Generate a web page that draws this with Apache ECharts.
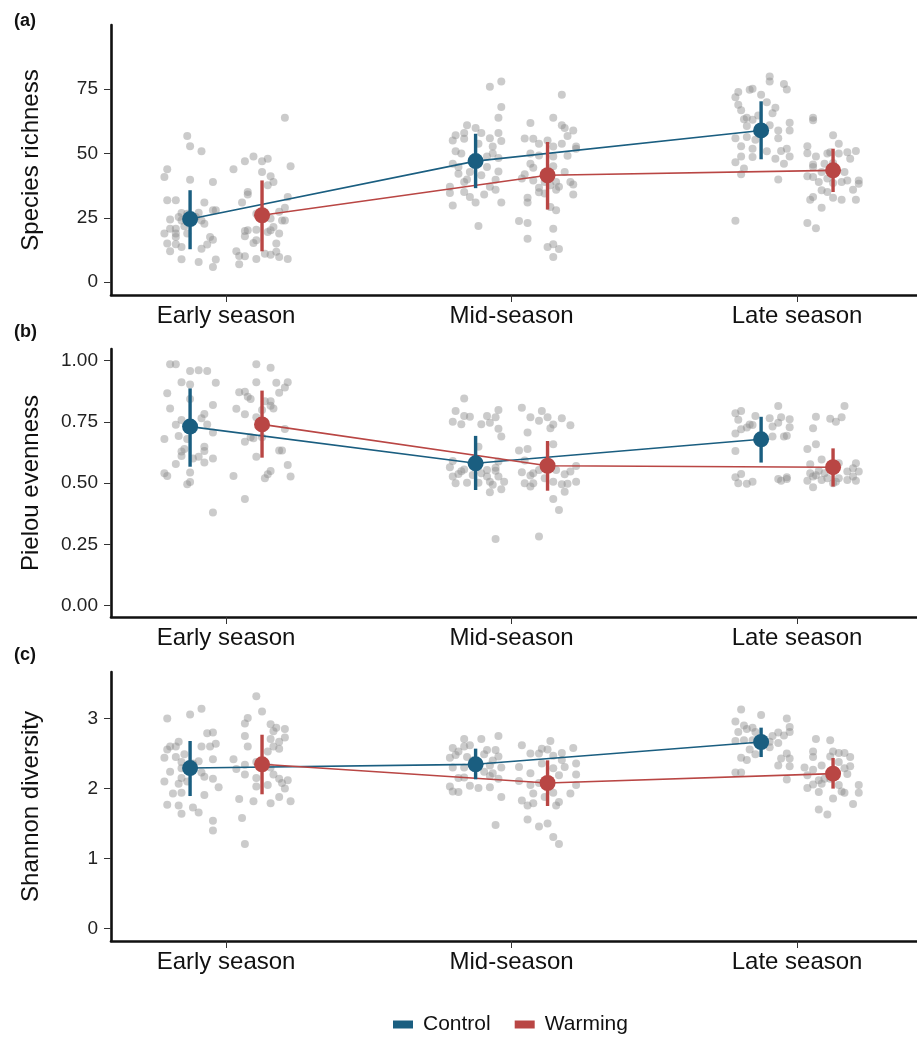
<!DOCTYPE html>
<html>
<head>
<meta charset="utf-8">
<script src="https://cdn.jsdelivr.net/npm/echarts@6/dist/echarts.min.js"></script>
<style>
  html, body { margin: 0; padding: 0; background: #fff; }
  #container { width: 917px; height: 1037px; }
</style>
</head>
<body>
<div id="container"></div>
<script>
var seasons = ['Early season', 'Mid-season', 'Late season'];
var treatments = ['Control', 'Warming'];

// means and error bar ends, per season
var richMeanCtrl = [24.5, 47.0, 58.9];
var richLoCtrl = [12.8, 36.5, 47.7];
var richHiCtrl = [35.7, 57.6, 70.2];
var richMeanWarm = [26.0, 41.5, 43.4];
var richLoWarm = [12.0, 28.2, 35.0];
var richHiWarm = [39.5, 54.4, 51.8];

var evenMeanCtrl = [0.731, 0.581, 0.679];
var evenLoCtrl = [0.567, 0.472, 0.584];
var evenHiCtrl = [0.887, 0.693, 0.771];
var evenMeanWarm = [0.740, 0.571, 0.565];
var evenLoWarm = [0.604, 0.469, 0.486];
var evenHiWarm = [0.878, 0.672, 0.642];

var shanMeanCtrl = [2.294, 2.347, 2.666];
var shanLoCtrl = [1.894, 2.133, 2.451];
var shanHiCtrl = [2.680, 2.571, 2.871];
var shanMeanWarm = [2.347, 2.080, 2.214];
var shanLoWarm = [1.919, 1.752, 2.000];
var shanHiWarm = [2.770, 2.404, 2.437];

// raw plots: [jitter, value]
var richEarlyCtrl = [[-0.09,40.8],[-0.08,43.8],[-0.01,56.7],[0,52.8],[0.04,50.8],[0,39.8],[0.08,38.9],[-0.08,31.8],[-0.05,31.8],[0.05,30.9],[-0.03,26.9],[0.03,27],[0.08,27.9],[0.09,27.9],[-0.07,24.3],[-0.03,24],[0.04,24],[0.05,22.7],[-0.02,21.7],[-0.07,20.8],[-0.05,20.8],[-0.09,18.9],[-0.05,18.9],[-0.01,18.9],[-0.05,17.6],[0.07,17.6],[0.08,16.5],[-0.08,15],[-0.05,14.7],[0.06,14.6],[-0.03,13.7],[0.04,13],[-0.07,12],[-0.03,8.9],[0.03,7.9],[0.08,5.9],[0.09,8.8],[-0.04,25.3],[-0.01,26.6],[0.02,25.3]];
var richEarlyWarm = [[0.08,63.8],[-0.03,48.8],[0.02,47.9],[0,46.9],[-0.06,46.9],[-0.1,43.8],[0.1,45],[0,42.8],[0.03,41.1],[0.04,38.9],[0.02,37.6],[-0.05,35],[-0.05,34],[-0.07,30.9],[0.09,33.1],[0.08,28.9],[-0.02,26.6],[0.06,27.3],[0.07,24],[0.08,24],[0.03,24.7],[0.03,20.2],[0.04,21.4],[-0.05,20.2],[-0.06,19.9],[-0.02,20.4],[-0.06,17.8],[0.06,18.9],[-0.03,15.2],[-0.02,16.3],[0.05,15],[-0.09,12],[-0.08,10.2],[-0.06,10.1],[-0.08,7],[-0.02,9],[0.01,11.1],[0.03,10.7],[0.05,11.8],[0.06,9.8],[0.09,9],[0.02,19.5]];
var richMidCtrl = [[0.09,77.9],[0.05,75.8],[0.09,68],[0.08,63.8],[-0.03,60.9],[0,59.8],[-0.07,57],[-0.04,57.9],[0.02,57.9],[-0.08,55],[-0.04,55.7],[0.05,55.9],[0.08,57.9],[0.09,54.8],[0.01,53.7],[0.06,52.7],[-0.07,50.8],[-0.05,49.9],[0.04,48.8],[0.06,49.9],[0.08,48.2],[-0.08,46],[-0.06,44.7],[-0.06,42.1],[-0.02,42.8],[0.02,41.5],[0.04,44.7],[0.08,43],[-0.04,38.9],[-0.03,39.9],[0.07,39.8],[-0.09,37],[0.05,37],[0.07,35.9],[-0.09,34.6],[-0.04,35],[-0.02,33.1],[0.03,34],[-0.08,29.8],[0,30.9],[0.09,30.9],[0.01,21.8]];
var richMidWarm = [[0.05,72.7],[0.02,63.8],[-0.06,61.8],[0.05,60.9],[0.06,59.8],[0.09,58.9],[0.07,56.7],[-0.08,55.8],[-0.05,55.7],[-0.03,53.7],[0,55],[0.05,53.7],[0.02,52.7],[0.1,52.7],[0.1,51.8],[-0.06,49.9],[-0.03,49.2],[0.02,48.8],[0.07,49.1],[-0.06,46],[-0.05,44.4],[0.02,45],[0.06,42.8],[-0.08,41.9],[-0.09,40.2],[-0.05,39.5],[-0.01,38.9],[0.03,38.9],[0.08,38.9],[0.09,37.9],[-0.03,36.7],[0.01,37.6],[0.04,37],[0.03,35.9],[-0.03,34.9],[-0.01,34.4],[0.09,34],[-0.07,32.8],[-0.07,30.9],[0.01,29.2],[0.03,27.9],[-0.1,23.8],[-0.07,23],[0.02,20.8],[-0.07,16.9],[0,13.7],[0.02,14.7],[0.04,12.9],[0.02,9.8]];
var richLateCtrl = [[0.03,79.8],[0.03,77.9],[0.08,76.9],[0.09,74.8],[-0.04,74.7],[-0.03,75.1],[-0.08,73.8],[0,72.7],[-0.09,71.8],[0.02,69.8],[-0.08,68.9],[0.05,67.7],[-0.07,66.7],[0.04,65.6],[-0.06,63.2],[-0.05,63.8],[-0.01,64.7],[-0.03,63],[-0.05,60.6],[0.03,60.9],[0.1,61.9],[0.06,58.9],[0.1,58.9],[-0.09,55.9],[-0.05,56.3],[-0.02,55.3],[0.06,55.9],[-0.07,52.8],[-0.03,51.8],[0.07,50.9],[0.09,51.8],[-0.07,48.8],[-0.03,48.6],[0.02,50.8],[0.1,48.8],[-0.09,46.6],[0.05,47.9],[0.08,46],[-0.06,44.1],[-0.07,41.9],[0.06,39.9],[-0.09,23.9]];
var richLateWarm = [[-0.07,63.8],[-0.07,62.8],[0,57],[0.02,53.7],[-0.09,52.8],[-0.01,50.4],[0.05,50.4],[0.08,50.9],[-0.09,50],[-0.06,48.8],[-0.02,49.9],[0.02,49.9],[0.06,47.9],[-0.07,45.7],[-0.03,46],[0,46.3],[-0.07,44.7],[-0.04,42.8],[0.04,42.8],[-0.09,41.1],[-0.07,40.8],[-0.05,38.9],[-0.02,40.2],[0.03,38.9],[0.05,39.5],[0.09,39.5],[0.09,38.2],[0,38.5],[-0.04,35.7],[-0.02,35],[0.07,35.9],[-0.08,32],[-0.07,33.1],[0,32.8],[0.03,32],[0.08,32],[-0.04,28.9],[-0.09,23],[-0.06,20.9]];

var evenEarlyCtrl = [[-0.07,0.986],[-0.05,0.986],[0,0.958],[0.03,0.961],[0.06,0.958],[-0.03,0.912],[0,0.903],[0.09,0.91],[-0.08,0.867],[0,0.844],[0.08,0.819],[-0.07,0.805],[0.05,0.782],[-0.03,0.758],[0.04,0.765],[-0.05,0.739],[0.06,0.74],[0.08,0.707],[-0.04,0.693],[-0.09,0.68],[-0.01,0.68],[-0.02,0.639],[0.05,0.649],[-0.03,0.629],[0.05,0.631],[-0.03,0.611],[0.01,0.601],[0.03,0.608],[0.08,0.601],[-0.05,0.578],[0.05,0.584],[-0.09,0.54],[-0.08,0.529],[0,0.543],[-0.01,0.495],[0,0.505],[0.08,0.38]];
var evenEarlyWarm = [[-0.02,0.986],[0.03,0.971],[-0.02,0.912],[0.05,0.91],[0.09,0.912],[0.08,0.891],[-0.08,0.871],[-0.06,0.873],[-0.05,0.853],[-0.04,0.844],[0.06,0.869],[0.01,0.835],[0.03,0.835],[0.03,0.816],[0.04,0.805],[-0.09,0.804],[0,0.799],[-0.06,0.781],[-0.02,0.769],[0.08,0.721],[-0.04,0.687],[-0.06,0.669],[-0.03,0.683],[0,0.687],[0.06,0.633],[0.07,0.633],[-0.02,0.608],[0.09,0.574],[0.03,0.55],[0.02,0.536],[0.01,0.52],[-0.1,0.529],[0.1,0.527],[-0.06,0.435]];
var evenMidCtrl = [[-0.04,0.846],[-0.07,0.795],[-0.04,0.774],[-0.02,0.771],[0.08,0.799],[0.04,0.774],[0.07,0.769],[-0.08,0.751],[-0.05,0.741],[0.02,0.741],[0.05,0.747],[0.08,0.722],[0.09,0.69],[0.01,0.649],[-0.08,0.59],[0.08,0.588],[-0.09,0.565],[-0.04,0.556],[-0.06,0.537],[-0.08,0.527],[-0.03,0.502],[-0.07,0.499],[-0.01,0.533],[0.02,0.54],[0.04,0.527],[0.05,0.506],[0.07,0.563],[0.08,0.527],[0.1,0.506],[0.06,0.493],[0.07,0.551],[0.01,0.502],[0.09,0.475],[0.05,0.463],[0.07,0.272],[-0.05,0.548],[0.04,0.554]];
var evenMidWarm = [[-0.09,0.808],[-0.06,0.769],[-0.03,0.755],[-0.02,0.795],[0,0.769],[0.01,0.724],[0.05,0.765],[0.08,0.736],[0.02,0.74],[-0.07,0.707],[0.02,0.659],[-0.07,0.639],[-0.1,0.633],[-0.08,0.592],[0.1,0.57],[-0.09,0.544],[-0.06,0.531],[-0.05,0.54],[-0.03,0.554],[0.03,0.554],[0.06,0.536],[0.08,0.547],[-0.08,0.499],[-0.06,0.486],[-0.05,0.499],[0.02,0.506],[0.05,0.495],[0.07,0.497],[0.1,0.506],[0.06,0.465],[0.02,0.435],[0.04,0.39],[-0.03,0.282],[-0.01,0.52]];
var evenLateCtrl = [[0.06,0.815],[-0.09,0.785],[-0.07,0.795],[-0.02,0.774],[0.03,0.765],[0.07,0.769],[0.1,0.761],[-0.08,0.759],[-0.04,0.74],[-0.03,0.737],[-0.05,0.727],[-0.07,0.72],[-0.09,0.703],[0.04,0.731],[0.06,0.747],[0.1,0.728],[0.08,0.69],[0.09,0.694],[0.04,0.69],[-0.09,0.631],[-0.09,0.524],[-0.07,0.537],[-0.08,0.499],[-0.05,0.497],[-0.03,0.506],[0.06,0.517],[0.07,0.51],[0.09,0.517],[0.09,0.524]];
var evenLateWarm = [[0.04,0.815],[-0.06,0.771],[-0.01,0.763],[0.03,0.769],[0.01,0.751],[-0.07,0.724],[-0.09,0.639],[-0.06,0.659],[-0.04,0.597],[-0.08,0.577],[0.02,0.581],[0.08,0.581],[-0.08,0.54],[-0.05,0.551],[-0.03,0.54],[0.05,0.547],[0.07,0.561],[0.09,0.547],[-0.09,0.51],[-0.07,0.527],[-0.04,0.513],[-0.02,0.52],[0.01,0.506],[0.02,0.52],[0.05,0.513],[0.08,0.51],[-0.07,0.483],[0,0.499],[0.07,0.527],[-0.06,0.532]];

var shanEarlyCtrl = [[-0.08,3],[0,3.06],[0.04,3.14],[0.06,2.79],[0.08,2.8],[-0.04,2.67],[-0.08,2.56],[-0.07,2.6],[-0.05,2.6],[0.04,2.6],[0.07,2.6],[0.09,2.64],[-0.09,2.44],[-0.05,2.45],[-0.02,2.49],[-0.03,2.38],[0.03,2.39],[0.08,2.42],[-0.07,2.24],[-0.03,2.29],[0.04,2.23],[0.05,2.17],[-0.03,2.15],[-0.01,2.1],[-0.09,2.1],[-0.04,2.07],[0.08,2.14],[0.1,2.02],[-0.06,1.93],[-0.03,1.94],[0.05,1.91],[-0.08,1.77],[-0.04,1.76],[0.01,1.73],[-0.03,1.64],[0.03,1.66],[0.08,1.54],[0.08,1.4],[0.01,2.36]];
var shanEarlyWarm = [[-0.02,3.32],[0,3.1],[-0.05,3.01],[-0.06,2.93],[0.03,2.92],[0.05,2.87],[0.08,2.85],[0.04,2.82],[-0.06,2.75],[0.03,2.71],[0.06,2.67],[0.08,2.73],[0.04,2.6],[0.06,2.57],[-0.05,2.6],[0.02,2.53],[-0.1,2.42],[-0.06,2.34],[-0.02,2.38],[0.03,2.3],[-0.09,2.28],[-0.06,2.2],[0.04,2.2],[-0.02,2.15],[0.06,2.14],[0.09,2.12],[-0.02,2.03],[0.02,2.05],[0.07,2.08],[0.08,2],[-0.08,1.85],[-0.03,1.82],[0.03,1.79],[0.06,1.88],[0.1,1.82],[-0.07,1.58],[-0.06,1.21]];
var shanMidCtrl = [[0.08,2.75],[0.02,2.71],[-0.04,2.71],[-0.04,2.6],[-0.08,2.58],[-0.02,2.62],[0.04,2.55],[0.07,2.55],[-0.06,2.53],[-0.07,2.48],[-0.09,2.44],[-0.03,2.45],[0.03,2.49],[0.08,2.46],[0.06,2.4],[0.09,2.3],[-0.08,2.3],[-0.04,2.3],[0.05,2.33],[0.03,2.24],[0.05,2.18],[0.06,2.22],[0.08,2.14],[-0.06,2.15],[-0.04,2.16],[-0.09,2.03],[-0.08,1.96],[-0.06,1.95],[-0.02,2.04],[0.01,2.01],[0.05,2.02],[0.09,1.88],[0.07,1.48],[0.01,2.38],[-0.01,2.4]];
var shanMidWarm = [[0.01,2.68],[-0.09,2.62],[0,2.56],[-0.02,2.57],[0.09,2.58],[-0.06,2.5],[-0.03,2.5],[0.05,2.51],[0.02,2.47],[0.05,2.41],[-0.1,2.31],[-0.02,2.36],[0.02,2.29],[0.06,2.31],[0.1,2.36],[-0.06,2.22],[0.04,2.19],[0.1,2.2],[-0.1,2.11],[-0.06,2.05],[-0.03,2.08],[0.1,2.05],[0.08,1.93],[-0.05,1.93],[-0.01,1.88],[0.02,1.94],[-0.09,1.83],[-0.07,1.76],[-0.05,1.79],[0.03,1.76],[0.04,1.81],[-0.07,1.56],[-0.03,1.46],[0,1.5],[0.02,1.31],[0.04,1.21]];
var shanLateCtrl = [[-0.07,3.13],[0,3.05],[0.09,3],[-0.09,2.96],[-0.06,2.9],[-0.03,2.87],[0.1,2.88],[-0.08,2.81],[-0.05,2.85],[-0.02,2.81],[0.04,2.75],[0.06,2.8],[0.08,2.76],[0.1,2.81],[-0.09,2.68],[-0.06,2.69],[-0.03,2.69],[0.03,2.67],[0.06,2.65],[-0.04,2.56],[0.03,2.59],[-0.02,2.49],[0.09,2.5],[-0.07,2.44],[-0.05,2.41],[0.07,2.43],[0.1,2.43],[0.06,2.33],[0.1,2.32],[-0.09,2.23],[-0.07,2.23],[0.09,2.13]];
var shanLateWarm = [[-0.06,2.71],[-0.01,2.69],[-0.07,2.53],[0,2.53],[0.02,2.51],[0.04,2.51],[-0.07,2.45],[0.06,2.45],[-0.01,2.46],[-0.04,2.33],[0.02,2.38],[0.06,2.32],[-0.1,2.3],[-0.07,2.27],[0.04,2.29],[0.05,2.21],[-0.09,2.19],[-0.05,2.12],[-0.03,2.14],[-0.09,2.01],[-0.07,2.06],[-0.04,2.07],[0.02,2.05],[0.09,2.05],[0.09,1.94],[-0.05,1.95],[0.03,1.96],[0.04,1.94],[0,1.86],[0.07,1.78],[-0.05,1.7],[-0.02,1.63],[-0.01,2.14]];

var yTicksRich = [0, 25, 50, 75];
var yTicksEven = [0, 0.25, 0.5, 0.75, 1];
var yTicksShan = [0, 1, 2, 3];

var CTRL = '#1a5e80';
var WARM = '#b94644';
var DODGE = 0.126;
var FONT = 'Liberation Sans, Arial, sans-serif';

var panels = [
  { name: 'Species richness', label: '(a)', top: 25, height: 270, min: -4.95, max: 99.8, ticks: yTicksRich, fmt: function (v) { return String(v); },
    raw: [[richEarlyCtrl, richEarlyWarm], [richMidCtrl, richMidWarm], [richLateCtrl, richLateWarm]],
    mean: [richMeanCtrl, richMeanWarm], lo: [richLoCtrl, richLoWarm], hi: [richHiCtrl, richHiWarm] },
  { name: 'Pielou evenness', label: '(b)', top: 349, height: 268, min: -0.047, max: 1.048, ticks: yTicksEven, fmt: function (v) { return v.toFixed(2); },
    raw: [[evenEarlyCtrl, evenEarlyWarm], [evenMidCtrl, evenMidWarm], [evenLateCtrl, evenLateWarm]],
    mean: [evenMeanCtrl, evenMeanWarm], lo: [evenLoCtrl, evenLoWarm], hi: [evenHiCtrl, evenHiWarm] },
  { name: 'Shannon diversity', label: '(c)', top: 672, height: 269, min: -0.177, max: 3.666, ticks: yTicksShan, fmt: function (v) { return String(v); },
    raw: [[shanEarlyCtrl, shanEarlyWarm], [shanMidCtrl, shanMidWarm], [shanLateCtrl, shanLateWarm]],
    mean: [shanMeanCtrl, shanMeanWarm], lo: [shanLoCtrl, shanLoWarm], hi: [shanHiCtrl, shanHiWarm] }
];
var labelTops = [12, 323, 646];

var grids = [], xAxes = [], yAxes = [], series = [], graphics = [];
var colors = [CTRL, WARM];

panels.forEach(function (p, k) {
  grids.push({ left: 111, right: 0, top: p.top, height: p.height });
  xAxes.push({
    type: 'value', gridIndex: k, min: 0.597, max: 3.42,
    splitLine: { show: false },
    axisLine: { onZero: false, lineStyle: { color: '#111', width: 2.6 } },
    axisTick: { length: 7, customValues: [1, 2, 3], lineStyle: { color: '#333', width: 1 } },
    axisLabel: { customValues: [1, 2, 3], margin: 9, fontSize: 24, color: '#111', fontFamily: FONT,
      formatter: function (v) { return seasons[Math.round(v) - 1]; } }
  });
  yAxes.push({
    type: 'value', gridIndex: k, min: p.min, max: p.max,
    name: p.name, nameLocation: 'middle', nameGap: 68,
    nameTextStyle: { fontSize: 24, color: '#111', fontFamily: FONT },
    splitLine: { show: false },
    axisLine: { show: true, lineStyle: { color: '#111', width: 2.6 } },
    axisTick: { show: true, length: 7, customValues: p.ticks, lineStyle: { color: '#333', width: 1 } },
    axisLabel: { customValues: p.ticks, margin: 13, fontSize: 19, color: '#222', fontFamily: FONT, formatter: p.fmt }
  });

  var pts = [];
  p.raw.forEach(function (pair, i) {
    pair.forEach(function (arr, t) {
      var cx = i + 1 + (t === 0 ? -DODGE : DODGE);
      arr.forEach(function (d) { pts.push([cx + d[0], d[1]]); });
    });
  });
  series.push({
    type: 'scatter', xAxisIndex: k, yAxisIndex: k, data: pts, symbolSize: 8, z: 1,
    itemStyle: { color: '#8c8c8c', opacity: 0.45 }, silent: true
  });

  treatments.forEach(function (tr, t) {
    var off = t === 0 ? -DODGE : DODGE;
    var means = seasons.map(function (s, i) { return [i + 1 + off, p.mean[t][i]]; });
    var bars = seasons.map(function (s, i) { return [i + 1 + off, p.lo[t][i], p.hi[t][i]]; });
    series.push({
      name: tr, type: 'line', xAxisIndex: k, yAxisIndex: k, data: means, z: 2,
      symbol: 'none', lineStyle: { color: colors[t], width: 1.6 }, itemStyle: { color: colors[t] }
    });
    series.push({
      type: 'custom', xAxisIndex: k, yAxisIndex: k, data: bars, z: 3,
      encode: { x: 0, y: [1, 2] },
      renderItem: function (params, api) {
        var a = api.coord([api.value(0), api.value(1)]);
        var b = api.coord([api.value(0), api.value(2)]);
        return { type: 'line', shape: { x1: a[0], y1: a[1], x2: b[0], y2: b[1] },
          style: { stroke: colors[t], lineWidth: 3.4 } };
      }
    });
    series.push({
      type: 'scatter', xAxisIndex: k, yAxisIndex: k, data: means, z: 4,
      symbolSize: 16, itemStyle: { color: colors[t], opacity: 1 }
    });
  });

  graphics.push({ type: 'text', left: 14, top: labelTops[k],
    style: { text: p.label, font: 'bold 18px ' + FONT, fill: '#111' } });
});

var dom = document.getElementById('container');
var myChart = echarts.init(dom, null, { renderer: 'canvas' });
var option = {
  animation: false,
  backgroundColor: '#fff',
  grid: grids,
  xAxis: xAxes,
  yAxis: yAxes,
  series: series,
  graphic: graphics,
  legend: {
    data: [{ name: 'Control', icon: 'rect' }, { name: 'Warming', icon: 'rect' }],
    left: 388, top: 1009, itemWidth: 20, itemHeight: 8, itemGap: 24,
    textStyle: { fontSize: 21, color: '#111', fontFamily: FONT, padding: [0, 0, 0, 5] }
  }
};
myChart.setOption(option);
window.addEventListener('resize', myChart.resize);
</script>
</body>
</html>
